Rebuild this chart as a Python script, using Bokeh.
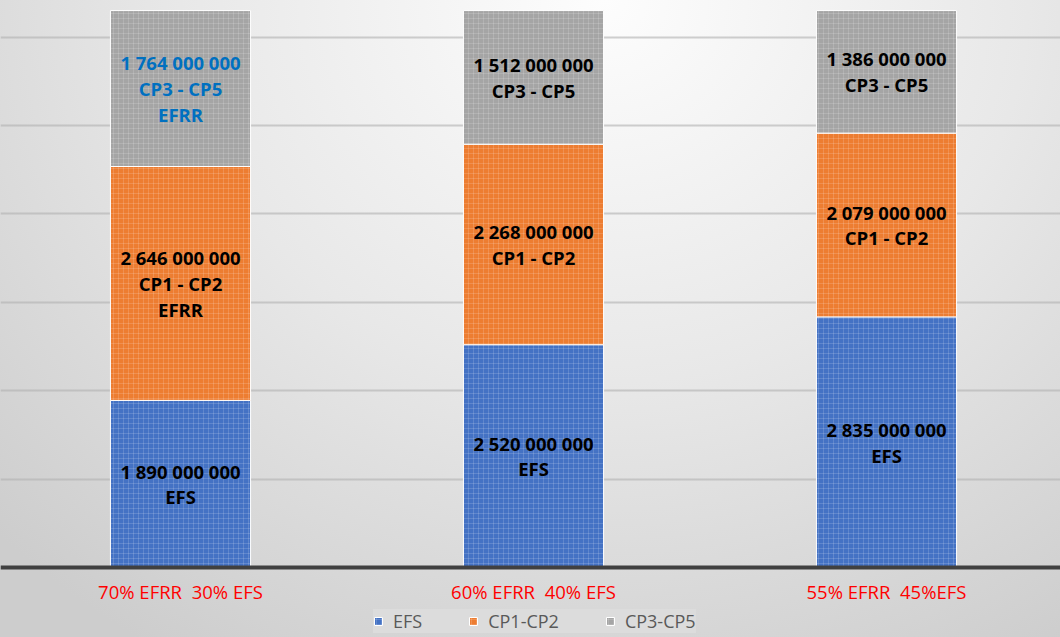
from bokeh.plotting import figure
from bokeh.models import (ColumnDataSource, Range1d, FixedTicker,
                          SingleIntervalTicker, Legend, LegendItem)
from bokeh.core.properties import value
from bokeh.embed import file_html
from bokeh.resources import INLINE

# ---- data ----
categories = ["70% EFRR \u00a030% EFS", "60% EFRR \u00a040% EFS", "55% EFRR \u00a045%EFS"]
efs = [1890000000, 2520000000, 2835000000]
cp1_cp2 = [2646000000, 2268000000, 2079000000]
cp3_cp5 = [1764000000, 1512000000, 1386000000]
series_names = ["EFS", "CP1-CP2", "CP3-CP5"]
segment_names = ["EFS", "CP1 - CP2", "CP3 - CP5"]
segment_suffix = [["", "", ""], ["EFRR", "", ""], ["EFRR", "", ""]]

# ---- styles ----
colors = ["#4472C4", "#ED7D31", "#A5A5A5"]
label_colors = [["#000000"] * 3, ["#000000"] * 3, ["#0070C0", "#000000", "#000000"]]
FONT = "Open Sans"

xs = list(range(len(categories)))
series = [efs, cp1_cp2, cp3_cp5]

p = figure(frame_width=1060, frame_height=637, output_backend="svg", toolbar_location=None,
           x_range=Range1d(-0.5099, 2.4929), y_range=Range1d(-0.7919e9, 6.414e9),
           min_border_left=0, min_border_right=0, min_border_top=0, min_border_bottom=0)
p.background_fill_color = None
p.border_fill_color = None
p.outline_line_color = None
p.styles = {"background": "radial-gradient(ellipse 80% 120% at 57% 0%, #fdfdfd 0%, #e8e8e8 50%, #cdcdcd 100%)"}

bottoms = [0] * len(xs)
renderers = []
for si, vals in enumerate(series):
    tops = [b + v for b, v in zip(bottoms, vals)]
    src = ColumnDataSource(dict(x=xs, bottom=bottoms, top=tops))
    r = p.vbar(x="x", width=0.397, bottom="bottom", top="top", source=src,
               fill_color=colors[si], line_color="white", line_width=1,
               hatch_pattern="+", hatch_color="white", hatch_alpha=0.15,
               hatch_scale=5, hatch_weight=1)
    renderers.append(r)
    texts = []
    for i, v in enumerate(vals):
        t = f"{v:,}".replace(",", " ") + "\n" + segment_names[si]
        if segment_suffix[si][i]:
            t += "\n" + segment_suffix[si][i]
        texts.append(t)
    lsrc = ColumnDataSource(dict(x=xs, y=[(b + t) / 2 for b, t in zip(bottoms, tops)],
                                 text=texts, color=label_colors[si]))
    p.text(x="x", y="y", text="text", source=lsrc, text_color="color",
           text_font=value(FONT), text_font_style="bold", text_font_size="18.5px",
           text_align="center", text_baseline="middle", text_line_height=1.03)
    bottoms = tops

# grid / axes
p.xgrid.visible = False
p.yaxis.ticker = SingleIntervalTicker(interval=1e9)
p.ygrid.ticker = SingleIntervalTicker(interval=1e9)
p.ygrid.grid_line_color = "#b0b0b0"
p.ygrid.grid_line_alpha = 0.6
p.ygrid.grid_line_width = 2
p.yaxis.visible = False

p.xaxis.fixed_location = 0
p.xaxis.ticker = FixedTicker(ticks=xs)
p.xaxis.major_label_overrides = {i: c for i, c in enumerate(categories)}
p.xaxis.major_label_text_color = "#FF0000"
p.xaxis.major_label_text_font = FONT
p.xaxis.major_label_text_font_size = "18.5px"
p.xaxis.major_label_standoff = 12
p.xaxis.major_tick_out = 0
p.xaxis.major_tick_in = 0
p.xaxis.major_tick_line_color = None
p.xaxis.minor_tick_line_color = None
p.xaxis.axis_line_color = "#404040"
p.xaxis.axis_line_width = 4

legend = Legend(items=[LegendItem(label=n, renderers=[r]) for n, r in zip(series_names, renderers)],
                orientation="horizontal", location=(373, 4),
                background_fill_color="#dcdcdc", background_fill_alpha=1.0,
                border_line_color=None, label_text_font=FONT, label_text_font_size="18px",
                label_text_color="#595959", glyph_width=10, glyph_height=10,
                label_standoff=10, spacing=46, padding=8, margin=0, label_height=18)
p.add_layout(legend, "center")

open("out.html", "w").write(file_html(p, INLINE))
